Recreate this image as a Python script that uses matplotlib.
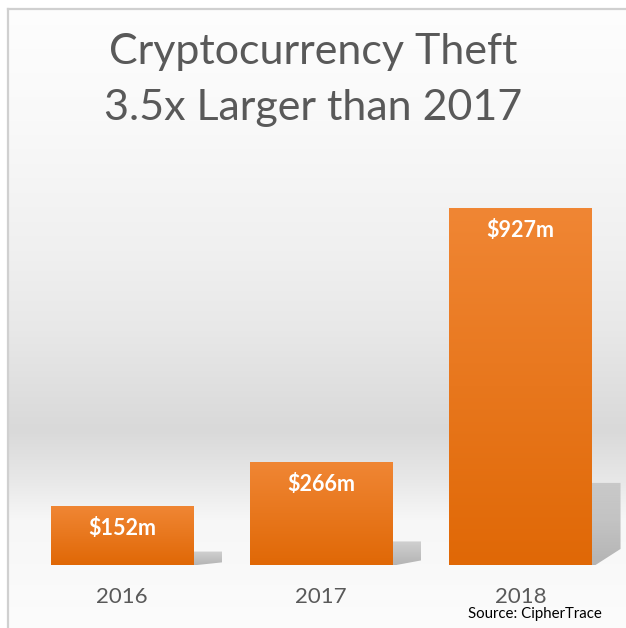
import numpy as np
import matplotlib
matplotlib.use("Agg")
import matplotlib.pyplot as plt
from matplotlib.patches import Polygon

# chart data
years = ["2016", "2017", "2018"]
theft = [152, 266, 927]          # $ millions
labels = ["$152m", "$266m", "$927m"]

title = "Cryptocurrency Theft\n3.5x Larger than 2017"
source = "Source: CipherTrace"

plt.rcParams['font.family'] = ['Lato', 'DejaVu Sans']
grey_txt = "#595959"

W, H = 626, 628
fig = plt.figure(figsize=(W / 100, H / 100), dpi=100)

# background: light grey band behind the bars
bg = fig.add_axes([0, 0, 1, 1], zorder=0)
bg.set_axis_off()
rows = np.arange(H)
stops_y = [0, 120, 250, 330, 430, 480, 520, 628]
stops_v = [254, 249, 240, 232, 217, 232, 247, 252]
col = np.interp(rows, stops_y, stops_v) / 255.0
img = np.repeat(col[:, None], W, axis=1)
img = np.dstack([img, img, img])
img[:9, :, :] = 1.0
img[:, :8, :] = 1.0
bg.imshow(img, extent=(0, W, H, 0), aspect='auto', interpolation='bilinear')
bg.plot([8, 8], [9, H], color="#d0d0d0", lw=1.6)
bg.plot([8, W], [9, 9], color="#d0d0d0", lw=1.6)
bg.set_xlim(0, W)
bg.set_ylim(H, 0)

# bar axes: baseline at 565 px, 0.385 px per $m
px_unit = 199.25
base_px = 565
ymax = 1000
ax = fig.add_axes([0, (H - base_px) / H, 1, ymax * 0.385 / H], zorder=1)
ax.patch.set_alpha(0)
x = np.arange(len(years))
w = 0.713

bars = ax.bar(x, theft, width=w, color="#ea7a1f", zorder=3)

# vertical gradient on each bar
grad = np.linspace(0, 1, 200)[:, None]
top_c = np.array([240, 134, 52]) / 255
bot_c = np.array([224, 104, 6]) / 255
gimg = top_c * (1 - grad[..., None]) + bot_c * grad[..., None]
for xi, v in zip(x, theft):
    ax.imshow(gimg, extent=(xi - w / 2, xi + w / 2, 0, v), aspect='auto',
              zorder=4, interpolation='bilinear')

# drop shadows to the right of the bars
sw = 29 / px_unit
for xi, v in zip(x, theft):
    xr = xi + w / 2
    pts = [(xr, 0), (xr, 0.23 * v), (xr + sw, 0.23 * v),
           (xr + sw, 0.045 * v), (xr + 0.02, 0)]
    poly = Polygon(pts, closed=True, facecolor='none', edgecolor='none')
    ax.add_patch(poly)
    simg = np.zeros((100, 1, 4))
    simg[..., :3] = 0.66
    simg[..., 3] = np.linspace(0.5, 0.85, 100)[:, None]
    im = ax.imshow(simg, extent=(xr, xr + sw, 0, 0.23 * v),
                   aspect='auto', zorder=2, interpolation='bilinear')
    im.set_clip_path(poly)

for xi, v, lab in zip(x, theft, labels):
    ax.text(xi, v - 22 / 0.385, lab, ha='center', va='center', color='white',
            fontsize=15.5, fontweight='bold', zorder=5)

ax.set_xlim(-122 / px_unit, -122 / px_unit + W / px_unit)
ax.set_ylim(0, ymax)
ax.set_xticks(x)
ax.set_xticklabels(years, fontsize=16, color=grey_txt)
ax.tick_params(axis='x', length=0, pad=16)
ax.set_yticks([])
for s in ax.spines.values():
    s.set_visible(False)

fig.text(0.5, 1 - 80 / H, title, ha='center', va='center', fontsize=31,
         color=grey_txt, linespacing=1.6)
fig.text(468 / W, 1 - 614 / H, source, ha='left', va='center', fontsize=10.8,
         color='black')

fig.savefig("out.png", dpi=100)
